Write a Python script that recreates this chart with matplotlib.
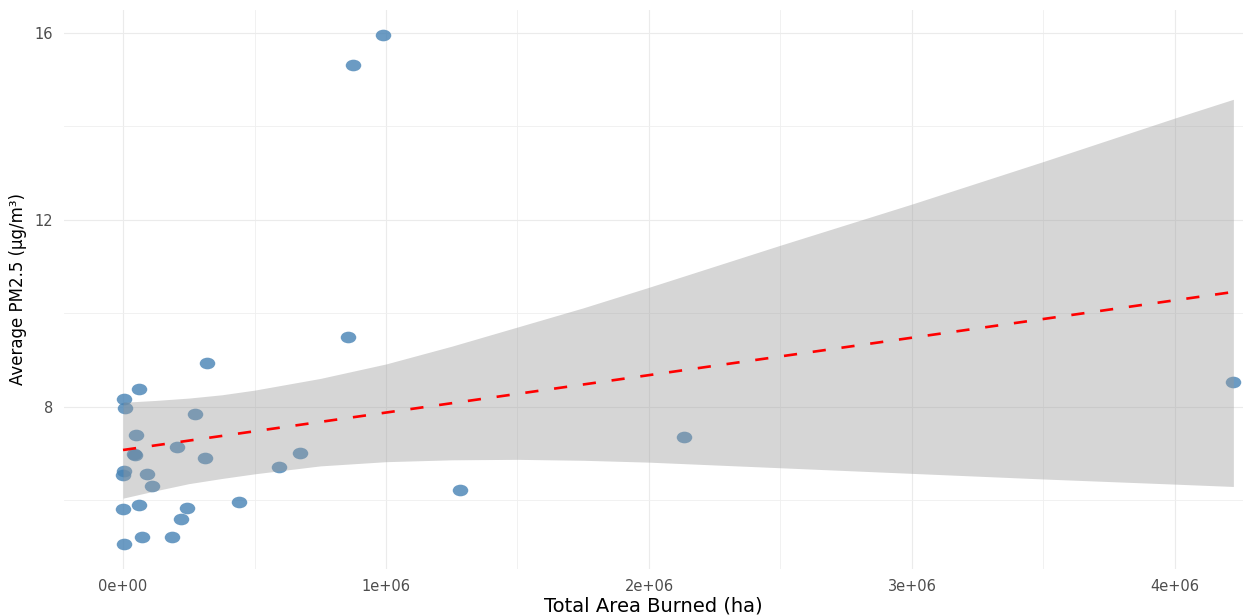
import numpy as np
import matplotlib
matplotlib.use("Agg")
from matplotlib import pyplot as plt
from matplotlib.markers import MarkerStyle
from matplotlib.transforms import Affine2D

# data
area_burned = [321000, 62000, 4000, 9000, 272000, 48000, 205000, 40000, 45000,
               312000, 673000, 593000, 5000, 0, 90000, 110000, 440000, 0,
               62000, 243000, 220000, 71000, 186000, 4000,
               875000, 989000, 856000, 1281000, 2133000, 4222000]
pm25 = [8.93, 8.39, 8.18, 7.98, 7.86, 7.39, 7.15, 7.00, 6.98,
        6.90, 7.02, 6.71, 6.63, 6.55, 6.57, 6.32, 5.97, 5.81,
        5.90, 5.83, 5.61, 5.21, 5.21, 5.07,
        15.32, 15.96, 9.50, 6.22, 7.36, 8.53]

# linear fit and its confidence band
fit_x = [0, 4222000]
fit_y = [7.08, 10.46]
band_x = [0, 125000, 250000, 375000, 500000, 750000, 1000000, 1250000,
          1500000, 1750000, 2000000, 2500000, 3000000, 3500000, 4000000, 4222000]
band_upper = [8.10, 8.14, 8.19, 8.26, 8.36, 8.61, 8.92, 9.30,
              9.71, 10.12, 10.56, 11.46, 12.34, 13.25, 14.18, 14.58]
band_lower = [6.05, 6.21, 6.36, 6.47, 6.57, 6.74, 6.83, 6.87,
              6.88, 6.86, 6.82, 6.70, 6.58, 6.46, 6.35, 6.30]

xtick_pos = [0, 1000000, 2000000, 3000000, 4000000]
xtick_labels = ["0e+00", "1e+06", "2e+06", "3e+06", "4e+06"]
ytick_pos = [8, 12, 16]
ytick_labels = ["8", "12", "16"]

plt.rcParams['font.family'] = ['DejaVu Sans']

fig = plt.figure(figsize=(12.43, 6.16), dpi=100)
ax = fig.add_axes([0.0515, 0.0763, 0.9485, 0.9075])

# slightly wide points, like the stretched original
dot = MarkerStyle('o', transform=Affine2D().scale(1, 0.75))
ax.scatter(area_burned, pm25, s=125, marker=dot, color='steelblue',
           alpha=0.8, linewidths=0, zorder=2)

# band and trend line go over the points
ax.fill_between(band_x, band_lower, band_upper, color='#999999', alpha=0.4,
                linewidth=0, zorder=3)
ax.plot(fit_x, fit_y, color='red', linewidth=1.9, dashes=(5, 6), zorder=4)

# axes limits and ticks
ax.set_xlim(-224300, 4258600)
ax.set_ylim(4.535, 16.49)
ax.set_xticks(xtick_pos)
ax.set_xticklabels(xtick_labels)
ax.set_xticks([500000, 1500000, 2500000, 3500000], minor=True)
ax.set_yticks(ytick_pos)
ax.set_yticklabels(ytick_labels)
ax.set_yticks([6, 10, 14], minor=True)

# minimal theme
for s in ax.spines.values():
    s.set_visible(False)
ax.set_axisbelow(True)
ax.grid(which='major', color='#EBEBEB', linewidth=0.8)
ax.grid(which='minor', color='#EFEFEF', linewidth=0.6)
ax.tick_params(which='both', length=0)
ax.tick_params(axis='x', labelsize=10.5, labelcolor='#4D4D4D', pad=7)
ax.tick_params(axis='y', labelsize=10.5, labelcolor='#4D4D4D', pad=8)

ax.set_xlabel("Total Area Burned (ha)", fontsize=14, color='black', labelpad=2)
ax.set_ylabel("Average PM2.5 (μg/m³)", fontsize=12, color='black', labelpad=5)

plt.savefig("out.png", dpi=100)
